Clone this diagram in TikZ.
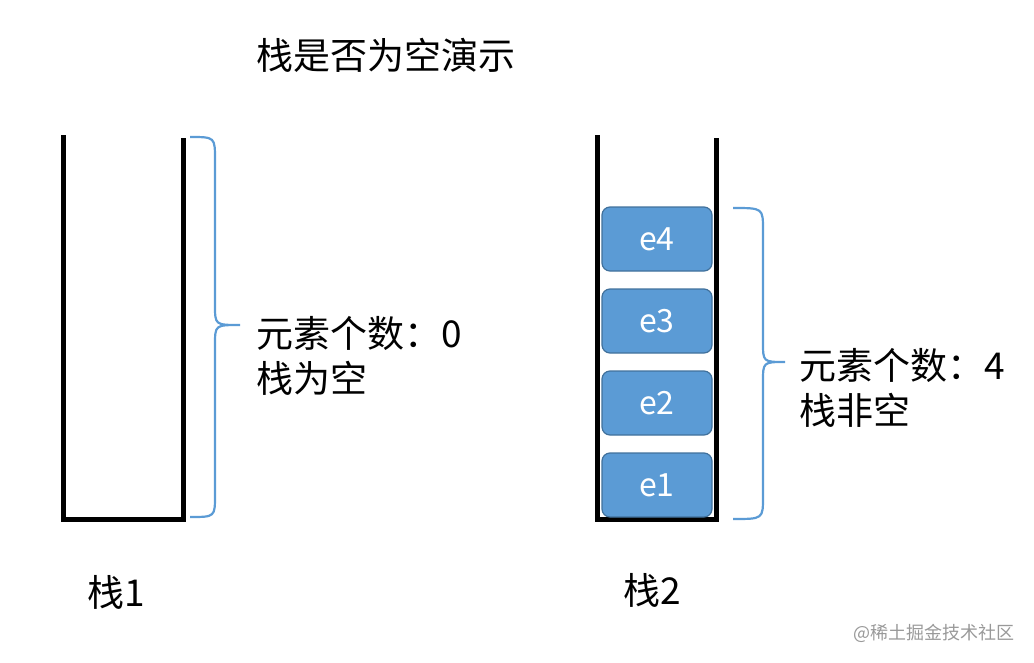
\documentclass[tikz,border=0pt]{standalone}
\usepackage{fontspec}
\setmainfont{Noto Sans CJK SC}
\definecolor{bl}{HTML}{5B9BD5}
\definecolor{bd}{HTML}{41719C}
\begin{document}
\begin{tikzpicture}[x=1pt,y=-1pt,
  wall/.style={line width=5pt},
  br/.style={draw=bl,line width=2.2pt},
  elem/.style={draw=bd,fill=bl,line width=1.2pt,rounded corners=8pt,minimum width=110pt,minimum height=64pt,text=white,font=\fontsize{32}{36}\selectfont},
  lbl/.style={anchor=west,font=\fontsize{37}{45}\selectfont,align=left}]
\useasboundingbox (0,0) rectangle (1034,662);
\node[lbl] (title) at (253,55) {栈是否为空演示};
\draw[wall] (63,135) -- (63,519) -- (183,519) -- (183,138);
\draw[br] (190,137) .. controls (215,137) .. (215,160) -- (215,305) .. controls (215,325) .. (240,325) .. controls (215,325) .. (215,345) -- (215,495) .. controls (215,517) .. (190,517);
\node[lbl] (t1) at (253,356) {元素个数：0\\栈为空};
\node[lbl] (s1) at (84,592) {栈1};
\draw[wall] (597,135) -- (597,519) -- (716,519) -- (716,138);
\node[elem] (e4) at (657,239) {e4};
\node[elem] (e3) at (657,321) {e3};
\node[elem] (e2) at (657,403) {e2};
\node[elem] (e1) at (657,485) {e1};
\draw[br] (733,208) .. controls (763,208) .. (763,230) -- (763,342) .. controls (763,362) .. (785,362) .. controls (763,362) .. (763,382) -- (763,497) .. controls (763,519) .. (733,519);
\node[lbl] (t2) at (796,388) {元素个数：4\\栈非空};
\node[lbl] (s2) at (620,590) {栈2};
\node[anchor=west,text=gray!80,font=\fontsize{18}{20}\selectfont] (wm) at (850,633) {@稀土掘金技术社区};
\end{tikzpicture}
\end{document}
